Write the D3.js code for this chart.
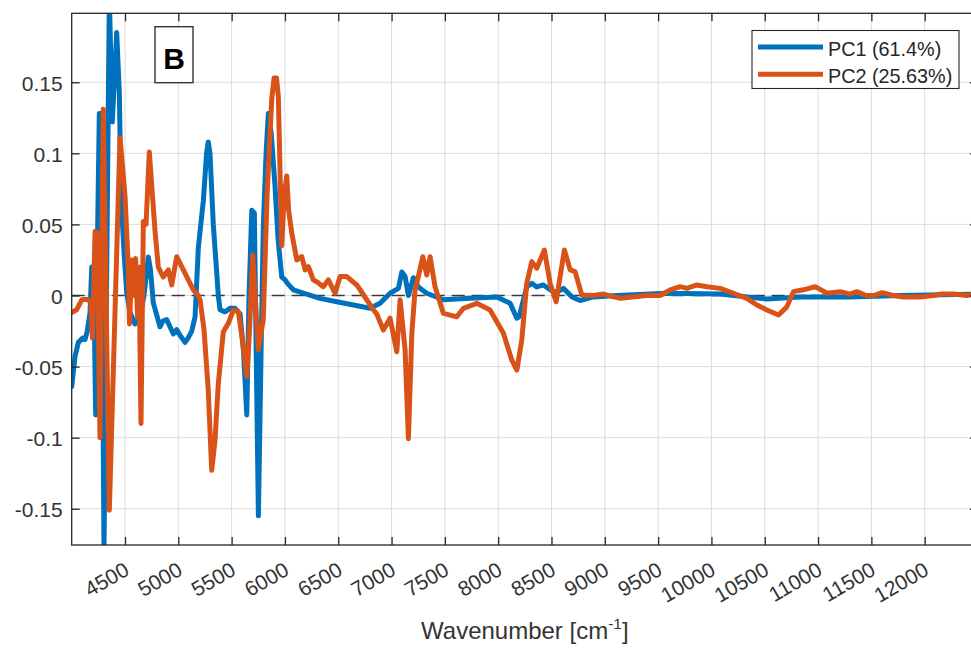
<!DOCTYPE html>
<meta charset="utf-8">
<style>
body { margin: 0; background: #fff; }
svg { display: block; overflow: hidden; font-family: "Liberation Sans", Arial, Helvetica, sans-serif; }
.grid line { stroke: #dcdcdc; stroke-width: 1; }
.axis path, .axis line { stroke: #262626; stroke-width: 1.3; }
.axis text { fill: #333; font-size: 21px; }
.series { fill: none; stroke-width: 5; stroke-linejoin: round; stroke-linecap: round; }
</style>
<svg width="971" height="650"></svg>
<script src="https://d3js.org/d3.v7.min.js"></script>
<script>

// wavenumber axis (cm^-1) and loadings
var wn1 = [4000,4031,4062,4103,4125,4146,4172,4188,4205,4225,4242,4259,4275,4303,4353,4381,4422,4447,4462,4491,4516,4547,4594,4641,4678,4719,4739,4765,4791,4828,4856,4891,4922,4953,4985,5016,5063,5091,5126,5157,5188,5235,5265,5281,5297,5328,5375,5391,5438,5485,5532,5579,5612,5642,5663,5689,5713,5751,5776,5797,5823,5844,5870,5907,5935,5970,6001,6029,6079,6173,6329,6486,6642,6798,6892,6986,7064,7096,7127,7158,7205,7251,7330,7486,7736,7987,8112,8175,8196,8268,8315,8362,8424,8487,8543,8612,8693,8768,8893,9113,9582,10082,10520,10832,11301,11770,12500];
var pc1 = [-0.064,-0.043,-0.033,-0.030,-0.031,-0.025,-0.012,0.020,0.018,-0.084,0.040,0.128,0.128,-0.180,0.210,0.122,0.185,0.142,0.070,0.030,0.002,-0.012,-0.020,-0.015,0.000,0.027,0.018,-0.005,-0.012,-0.022,-0.018,-0.017,-0.022,-0.027,-0.024,-0.028,-0.033,-0.030,-0.025,-0.015,0.034,0.067,0.100,0.108,0.100,0.050,0.000,-0.010,-0.0115,-0.009,-0.009,-0.013,-0.040,-0.084,0.000,0.060,0.058,-0.155,-0.040,0.048,0.100,0.128,0.115,0.077,0.040,0.013,0.011,0.008,0.004,0.0016,-0.002,-0.0044,-0.0067,-0.009,-0.0055,0.0016,0.005,0.0165,0.0133,0.000,0.0125,0.006,0.0016,-0.003,-0.002,-0.001,-0.0055,-0.016,-0.015,0.006,0.0086,0.006,0.0074,0.004,0.002,0.005,-0.001,-0.0035,-0.001,0.000,0.0015,0.001,-0.0025,-0.001,-0.001,0.000,0.001];

var wn2 = [4000,4047,4094,4146,4178,4195,4219,4240,4265,4296,4322,4353,4453,4472,4500,4531,4542,4566,4584,4599,4617,4631,4650,4672,4697,4728,4753,4781,4812,4859,4906,4938,4985,5032,5094,5141,5173,5204,5241,5281,5313,5344,5375,5422,5469,5516,5563,5610,5642,5666,5698,5720,5751,5797,5832,5876,5898,5921,5938,5970,5992,6017,6034,6064,6111,6158,6189,6220,6266,6311,6360,6407,6470,6517,6580,6674,6767,6829,6861,6923,6986,7049,7080,7127,7158,7190,7220,7251,7293,7330,7361,7408,7486,7612,7674,7799,7924,8049,8128,8175,8221,8268,8315,8362,8433,8487,8543,8621,8675,8721,8784,8893,8987,9144,9394,9519,9613,9706,9769,9863,9957,10082,10206,10332,10426,10520,10629,10707,10769,10863,10973,11083,11207,11300,11364,11450,11520,11600,11707,11800,11958,12083,12150,12270,12400,12500];
var pc2 = [-0.012,-0.010,-0.003,-0.0027,-0.0045,-0.030,0.045,0.044,-0.100,0.131,0.000,-0.151,0.111,0.095,0.070,0.020,-0.020,0.025,0.000,0.026,-0.015,0.020,-0.090,0.052,0.050,0.101,0.075,0.046,0.020,0.013,0.018,0.0074,0.0273,0.0203,0.011,0.0039,0.0016,-0.003,-0.024,-0.067,-0.123,-0.102,-0.062,-0.0255,-0.0196,-0.0102,-0.0114,-0.036,-0.057,-0.027,0.0285,0.000,-0.038,-0.017,0.070,0.138,0.153,0.153,0.140,0.035,0.070,0.084,0.060,0.044,0.025,0.0273,0.018,0.0203,0.011,0.009,0.0062,0.011,0.0016,0.0133,0.0133,0.0074,-0.003,-0.010,-0.013,-0.0243,-0.016,-0.0396,-0.003,-0.0384,-0.1007,-0.0266,0.0039,0.0133,0.0273,0.0144,0.0273,0.0062,-0.0126,-0.015,-0.009,-0.0055,-0.0102,-0.0266,-0.0455,-0.0525,-0.0314,0.0086,0.0238,0.0192,0.032,0.0086,-0.0044,0.032,0.018,0.0168,0.0004,0.000,0.001,-0.002,0.000,0.000,0.004,0.0062,0.005,0.0074,0.0062,0.005,0.0016,-0.002,-0.0067,-0.0102,-0.0137,-0.008,0.0027,0.004,0.0062,0.0016,0.0027,0.001,0.0027,0.000,0.000,0.002,0.000,-0.001,-0.001,0.000,0.001,0.001,0.000,0.0015];

var seriesNames = ["PC1 (61.4%)", "PC2 (25.63%)"];
var seriesColors = ["#0072BD", "#D95319"];
var xTicks = [4500,5000,5500,6000,6500,7000,7500,8000,8500,9000,9500,10000,10500,11000,11500,12000];
var yTicks = [-0.15,-0.1,-0.05,0,0.05,0.1,0.15];
var panelLabel = "B";

var svg = d3.select("svg"),
    x0 = 71.7, x1 = 978, y0 = 13.3, y1 = 545;

var x = d3.scaleLinear().domain([4000, 12500]).range([x0, x1]);
var y = d3.scaleLinear().domain([-0.1755, 0.1985]).range([y1, y0]);

svg.append("defs").append("clipPath").attr("id", "clip")
  .append("rect").attr("x", x0).attr("y", y0)
    .attr("width", x1 - x0).attr("height", y1 - y0);

// grid
var grid = svg.append("g").attr("class", "grid");
grid.selectAll(".gx").data(xTicks).enter().append("line")
    .attr("x1", function(d) { return x(d); }).attr("x2", function(d) { return x(d); })
    .attr("y1", y0).attr("y2", y1);
grid.selectAll(".gy").data(yTicks).enter().append("line")
    .attr("y1", function(d) { return y(d); }).attr("y2", function(d) { return y(d); })
    .attr("x1", x0).attr("x2", x1);

// zero reference
svg.append("line")
    .attr("x1", x0).attr("x2", x1)
    .attr("y1", y(0)).attr("y2", y(0))
    .attr("stroke", "#3a3a3a").attr("stroke-width", 1.3)
    .attr("stroke-dasharray", "13,7");

var line = d3.line()
    .x(function(d) { return x(d[0]); })
    .y(function(d) { return y(d[1]); });

var plot = svg.append("g").attr("clip-path", "url(#clip)");
[[wn1, pc1], [wn2, pc2]].forEach(function(s, i) {
  plot.append("path")
      .attr("class", "series")
      .attr("stroke", seriesColors[i])
      .attr("d", line(d3.zip(s[0], s[1])));
});

// axes, ticks pointing inward on all sides
var xAxis = svg.append("g").attr("class", "axis")
    .attr("transform", "translate(0," + y1 + ")")
    .call(d3.axisBottom(x).tickValues(xTicks).tickSize(-8).tickSizeOuter(0).tickFormat(function(d) { return String(d); }));
xAxis.selectAll("text")
    .attr("x", 0).attr("y", 0).attr("dy", 0)
    .attr("text-anchor", "end")
    .attr("transform", "translate(5,29) rotate(-30)");

svg.append("g").attr("class", "axis")
    .attr("transform", "translate(0," + y0 + ")")
    .call(d3.axisTop(x).tickValues(xTicks).tickSize(-8).tickSizeOuter(0).tickFormat(""));

var yAxis = svg.append("g").attr("class", "axis")
    .attr("transform", "translate(" + x0 + ",0)")
    .call(d3.axisLeft(y).tickValues(yTicks).tickSize(-8).tickSizeOuter(0).tickFormat(function(d) { return String(d); }));
yAxis.selectAll("text").attr("x", -9).attr("dy", "0.37em");

svg.append("g").attr("class", "axis")
    .attr("transform", "translate(" + x1 + ",0)")
    .call(d3.axisRight(y).tickValues(yTicks).tickSize(-8).tickSizeOuter(0).tickFormat(""));

svg.selectAll(".axis .domain").remove();
svg.append("rect")
    .attr("x", x0).attr("y", y0)
    .attr("width", x1 - x0).attr("height", y1 - y0)
    .attr("fill", "none").attr("stroke", "#262626").attr("stroke-width", 1.3);

// x label
var xl = svg.append("text")
    .attr("x", (x0 + x1) / 2).attr("y", 639)
    .attr("text-anchor", "middle")
    .attr("fill", "#333").style("font-size", "24px");
xl.append("tspan").text("Wavenumber [cm");
xl.append("tspan").attr("dy", -10).style("font-size", "15.5px").text("-1");
xl.append("tspan").attr("dy", 10).text("]");

// panel label
svg.append("rect")
    .attr("x", 155).attr("y", 26.7).attr("width", 38).attr("height", 56)
    .attr("fill", "#fff").attr("stroke", "#333").attr("stroke-width", 1.4);
svg.append("text")
    .attr("x", 174).attr("y", 68.5)
    .attr("text-anchor", "middle")
    .style("font-size", "30px").style("font-weight", "bold")
    .attr("fill", "#000").text(panelLabel);

// legend
var lg = svg.append("g");
lg.append("rect")
    .attr("x", 752).attr("y", 30.5).attr("width", 207).attr("height", 58)
    .attr("fill", "#fff").attr("stroke", "#262626").attr("stroke-width", 1.1);
seriesNames.forEach(function(name, i) {
  var ly = 47 + i * 27.3;
  lg.append("line")
      .attr("x1", 758).attr("x2", 823).attr("y1", ly).attr("y2", ly)
      .attr("stroke", seriesColors[i]).attr("stroke-width", 5);
  lg.append("text")
      .attr("x", 828).attr("y", ly + 8.8)
      .attr("fill", "#262626").style("font-size", "19.8px")
      .text(name);
});

</script>
